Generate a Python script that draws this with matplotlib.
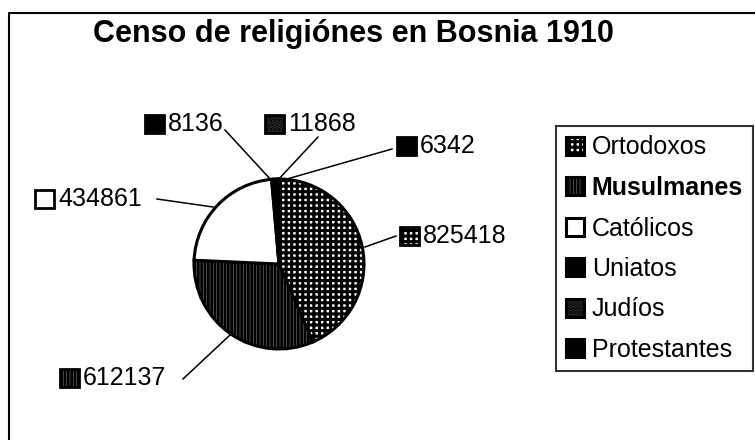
import matplotlib
matplotlib.use("Agg")
import matplotlib.pyplot as plt
from matplotlib.patches import Rectangle

plt.rcParams['font.family'] = ['Liberation Sans', 'DejaVu Sans']
plt.rcParams['hatch.linewidth'] = 2.2

title = "Censo de religiónes en Bosnia 1910"
religions = ["Ortodoxos", "Musulmanes", "Católicos", "Uniatos", "Judíos", "Protestantes"]
population = [825418, 612137, 434861, 8136, 11868, 6342]

faces = ["white", "white", "white", "black", "#333333", "black"]
hatches = ["+++", "|||||", None, None, "....", None]

# label anchor (marker left x, text centre y) and leader end points (pixels)
label_pos = [(400, 236), (60, 378), (35, 199), (145, 124), (265, 124), (397, 146)]
leaders = [((365, 247), (396, 236)), ((230, 335), (183, 379)), ((213, 207), (157, 199)),
           ((272, 181), (225, 130)), ((277, 181), (318, 137)), ((280, 181), (392, 149))]

W, H = 755, 440
fig = plt.figure(figsize=(W / 100, H / 100), dpi=100)
ax = fig.add_axes([0, 0, 1, 1])

wedges, _ = ax.pie(population, startangle=-90, counterclock=True,
                   center=(279, 264), radius=85,
                   wedgeprops=dict(edgecolor="black", linewidth=2.2))
for w, fc, h in zip(wedges, faces, hatches):
    w.set_facecolor(fc)
    if h:
        w.set_hatch(h)

ax.set_aspect('auto')
ax.set_xlim(0, W)
ax.set_ylim(H, 0)
ax.axis('off')

FS = 18
# data labels
for (x, y), val, fc, h, (p0, p1) in zip(label_pos, population, faces, hatches, leaders):
    ax.add_patch(Rectangle((x, y - 9), 19, 18, facecolor=fc, edgecolor="black",
                           linewidth=2, hatch=h))
    ax.text(x + 23, y, f"{val}", fontsize=FS, va="center", ha="left")
    ax.plot([p0[0], p1[0]], [p0[1], p1[1]], color="black", lw=1.1)

# title
ax.text(353, 34, title, fontsize=22, fontweight="bold", ha="center", va="center")

# outer frame
ax.plot([9, 9, W + 5], [H + 5, 13, 13], color="black", lw=1.5)

# legend
leg = ax.legend(wedges, religions, loc="upper left",
                bbox_to_anchor=(556 / W, 1 - 126 / H), bbox_transform=fig.transFigure,
                frameon=True, fancybox=False, borderaxespad=0, fontsize=FS,
                handlelength=0.75, handleheight=0.75, handletextpad=0.3,
                labelspacing=0.66, borderpad=0.38)
leg.get_frame().set_edgecolor("black")
leg.get_frame().set_linewidth(1.5)
for t in leg.get_texts():
    if t.get_text() == "Musulmanes":
        t.set_fontweight("bold")

fig.savefig("out.png", dpi=100)
